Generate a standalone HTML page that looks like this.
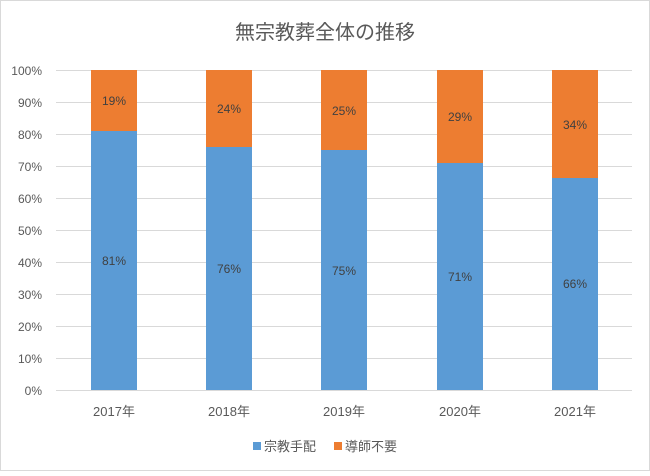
<!DOCTYPE html>
<html><head><meta charset="utf-8"><style>
body{margin:0;background:#fff}
text{font-family:"Liberation Sans","Noto Sans CJK JP",sans-serif}
</style></head><body>
<svg width="650" height="471" xmlns="http://www.w3.org/2000/svg">
<rect x="0.5" y="0.5" width="649" height="470" fill="#fff" stroke="#d9d9d9"/>
<text x="325" y="39" text-anchor="middle" font-size="20" fill="#595959">無宗教葬全体の推移</text>
<g stroke="#d9d9d9" stroke-width="1">
<line x1="56" x2="632" y1="70.5" y2="70.5"/><line x1="56" x2="632" y1="102.5" y2="102.5"/>
<line x1="56" x2="632" y1="134.5" y2="134.5"/><line x1="56" x2="632" y1="166.5" y2="166.5"/>
<line x1="56" x2="632" y1="198.5" y2="198.5"/><line x1="56" x2="632" y1="230.5" y2="230.5"/>
<line x1="56" x2="632" y1="262.5" y2="262.5"/><line x1="56" x2="632" y1="294.5" y2="294.5"/>
<line x1="56" x2="632" y1="326.5" y2="326.5"/><line x1="56" x2="632" y1="358.5" y2="358.5"/>
<line x1="56" x2="632" y1="390.5" y2="390.5"/>
</g>
<g font-size="12" fill="#595959" text-anchor="end">
<text x="42" y="75">100%</text><text x="42" y="107">90%</text><text x="42" y="139">80%</text>
<text x="42" y="171">70%</text><text x="42" y="203">60%</text><text x="42" y="235">50%</text>
<text x="42" y="267">40%</text><text x="42" y="299">30%</text><text x="42" y="331">20%</text>
<text x="42" y="363">10%</text><text x="42" y="395">0%</text>
</g>
<g>
<rect x="91" y="70" width="46" height="61" fill="#ED7D31"/><rect x="91" y="131" width="46" height="259" fill="#5B9BD5"/>
<rect x="206" y="70" width="46" height="77" fill="#ED7D31"/><rect x="206" y="147" width="46" height="243" fill="#5B9BD5"/>
<rect x="321" y="70" width="46" height="80" fill="#ED7D31"/><rect x="321" y="150" width="46" height="240" fill="#5B9BD5"/>
<rect x="437" y="70" width="46" height="93" fill="#ED7D31"/><rect x="437" y="163" width="46" height="227" fill="#5B9BD5"/>
<rect x="552" y="70" width="46" height="108" fill="#ED7D31"/><rect x="552" y="178" width="46" height="212" fill="#5B9BD5"/>
</g>
<g font-size="12" fill="#404040" text-anchor="middle">
<text x="114" y="105">19%</text><text x="114" y="265">81%</text>
<text x="229" y="113">24%</text><text x="229" y="273">76%</text>
<text x="344" y="115">25%</text><text x="344" y="275">75%</text>
<text x="460" y="121">29%</text><text x="460" y="281">71%</text>
<text x="575" y="129">34%</text><text x="575" y="288">66%</text>
</g>
<g font-size="13" fill="#595959" text-anchor="middle">
<text x="114" y="416">2017年</text><text x="229" y="416">2018年</text><text x="344" y="416">2019年</text>
<text x="460" y="416">2020年</text><text x="575" y="416">2021年</text>
</g>
<rect x="253" y="442" width="8" height="8" fill="#5B9BD5"/>
<text x="264" y="451" font-size="13" fill="#595959">宗教手配</text>
<rect x="334" y="442" width="8" height="8" fill="#ED7D31"/>
<text x="345" y="451" font-size="13" fill="#595959">導師不要</text>
</svg>
</body></html>
